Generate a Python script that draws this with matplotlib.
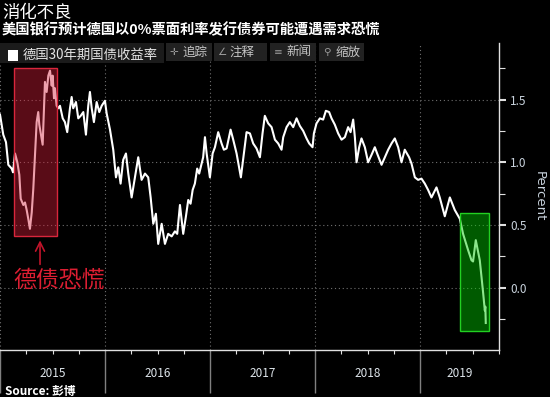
import numpy as np
import matplotlib
matplotlib.use("Agg")
import matplotlib.pyplot as plt
from matplotlib.patches import Rectangle
import matplotlib.transforms as mtransforms

plt.rcParams['font.family'] = ['Noto Sans CJK SC', 'DejaVu Sans']

title = "消化不良"
subtitle = "美国银行预计德国以0%票面利率发行债券可能遭遇需求恐慌"
series_name = "德国30年期国债收益率"
source = "Source: 彭博"
callout = "德债恐慌"
tool_icons = ["✛", "∠", "≡", "⚲"]
tool_names = ["追踪", "注释", "新闻", "缩放"]

# decimal year, yield in percent
t = [2015.000, 2015.031, 2015.057, 2015.079, 2015.111, 2015.124, 2015.143, 2015.165,
     2015.184, 2015.197, 2015.222, 2015.238, 2015.254, 2015.269, 2015.285, 2015.302,
     2015.317, 2015.333, 2015.349, 2015.364, 2015.374, 2015.390, 2015.406, 2015.419,
     2015.428, 2015.444, 2015.460, 2015.476, 2015.492, 2015.501, 2015.514, 2015.523,
     2015.539, 2015.555, 2015.571, 2015.597, 2015.618, 2015.640, 2015.666, 2015.682,
     2015.697, 2015.723, 2015.745, 2015.768, 2015.793, 2015.818, 2015.840, 2015.856,
     2015.873, 2015.894, 2015.920, 2015.945, 2015.968, 2015.999,
     2016.015, 2016.047, 2016.078, 2016.104, 2016.126, 2016.148, 2016.173, 2016.199,
     2016.221, 2016.253, 2016.284, 2016.316, 2016.348, 2016.380, 2016.411, 2016.434,
     2016.459, 2016.484, 2016.506, 2016.539, 2016.570, 2016.601, 2016.634, 2016.665,
     2016.687, 2016.713, 2016.744, 2016.770, 2016.792, 2016.814, 2016.834, 2016.855,
     2016.877, 2016.896, 2016.919, 2016.934, 2016.951, 2016.967, 2016.998,
     2017.024, 2017.046, 2017.077, 2017.109, 2017.131, 2017.157, 2017.195, 2017.220,
     2017.252, 2017.293, 2017.322, 2017.347, 2017.379, 2017.410, 2017.442, 2017.474,
     2017.499, 2017.521, 2017.553, 2017.585, 2017.617, 2017.648, 2017.680, 2017.696,
     2017.728, 2017.759, 2017.791, 2017.823, 2017.854, 2017.886, 2017.918, 2017.943,
     2017.975, 2017.988,
     2018.013, 2018.045, 2018.076, 2018.102, 2018.133, 2018.156, 2018.187, 2018.219,
     2018.251, 2018.283, 2018.314, 2018.337, 2018.362, 2018.378, 2018.394, 2018.419,
     2018.441, 2018.473, 2018.504, 2018.537, 2018.568, 2018.590, 2018.632, 2018.663,
     2018.695, 2018.727, 2018.758, 2018.790, 2018.822, 2018.853, 2018.894, 2018.917,
     2018.949, 2018.980,
     2019.012, 2019.044, 2019.075, 2019.107, 2019.155, 2019.186, 2019.234, 2019.282,
     2019.329, 2019.377, 2019.408, 2019.456, 2019.488, 2019.503, 2019.529, 2019.567,
     2019.583, 2019.599, 2019.615, 2019.620, 2019.624]
y = [1.38, 1.22, 1.16, 0.98, 0.95, 0.92, 1.07, 1.00,
     0.90, 0.71, 0.66, 0.68, 0.62, 0.55, 0.47, 0.60,
     0.79, 1.06, 1.32, 1.40, 1.30, 1.22, 1.14, 1.45,
     1.64, 1.56, 1.69, 1.73, 1.61, 1.69, 1.51, 1.59,
     1.45, 1.43, 1.45, 1.35, 1.32, 1.24, 1.43, 1.52,
     1.43, 1.48, 1.35, 1.37, 1.40, 1.22, 1.45, 1.56,
     1.43, 1.32, 1.48, 1.40, 1.45, 1.49,
     1.39, 1.26, 1.10, 0.88, 0.96, 0.83, 1.02, 1.07,
     0.91, 0.72, 0.88, 1.04, 0.86, 0.91, 0.88, 0.72,
     0.51, 0.59, 0.35, 0.51, 0.35, 0.43, 0.41, 0.45,
     0.43, 0.66, 0.43, 0.57, 0.70, 0.67, 0.78, 0.83,
     0.95, 0.91, 0.99, 1.04, 1.20, 1.07, 0.88,
     1.07, 1.12, 1.24, 1.15, 1.10, 1.11, 1.26, 1.18,
     1.07, 0.88, 1.07, 1.24, 1.23, 1.15, 1.11, 1.04,
     1.23, 1.37, 1.31, 1.28, 1.18, 1.15, 1.10, 1.20,
     1.28, 1.32, 1.28, 1.35, 1.29, 1.25, 1.19, 1.15,
     1.12, 1.23,
     1.31, 1.35, 1.34, 1.41, 1.40, 1.35, 1.30, 1.23,
     1.18, 1.20, 1.28, 1.24, 1.34, 1.20, 1.00, 1.12,
     1.19, 1.12, 1.00, 1.06, 1.12, 1.07, 0.98, 1.04,
     1.10, 1.15, 1.19, 1.12, 1.00, 1.10, 1.04, 0.99,
     0.88, 0.86,
     0.87, 0.83, 0.78, 0.72, 0.80, 0.72, 0.57, 0.72,
     0.62, 0.55, 0.43, 0.30, 0.22, 0.21, 0.38, 0.22,
     0.09, -0.04, -0.18, -0.15, -0.28]

years = [2015, 2016, 2017, 2018, 2019]
x_end = 2019.748
yticks = [0.0, 0.5, 1.0, 1.5]

# highlighted boxes: (x0, x1, y0, y1)
red_box = (2015.133, 2015.542, 0.415, 1.75)
green_box = (2019.376, 2019.652, -0.345, 0.598)

W, H = 550, 397
fig = plt.figure(figsize=(W / 100, H / 100), dpi=100, facecolor="black")
ax = fig.add_axes([0, 1 - 350 / H, 499 / W, 307 / H], facecolor="black")

ax.plot(t, y, color="white", lw=1.5, zorder=3)
ax.set_xlim(2015.0, x_end)
ax.set_ylim(-0.495, 1.95)

for yy in yticks:
    ax.axhline(yy, color="#707070", lw=0.8, ls=(0, (1, 2.5)), zorder=1)
for yr in years:
    ax.axvline(yr, color="#707070", lw=0.8, ls=(0, (1, 2.5)), zorder=1)

# boxes
rx0, rx1, ry0, ry1 = red_box
ax.add_patch(Rectangle((rx0, ry0), rx1 - rx0, ry1 - ry0, facecolor="#d61d39",
                       alpha=0.42, edgecolor="none", zorder=4))
ax.add_patch(Rectangle((rx0, ry0), rx1 - rx0, ry1 - ry0, facecolor="none",
                       edgecolor="#d9263c", lw=1.0, zorder=5))
gx0, gx1, gy0, gy1 = green_box
ax.add_patch(Rectangle((gx0, gy0), gx1 - gx0, gy1 - gy0, facecolor="#00c800",
                       alpha=0.45, edgecolor="none", zorder=4))
ax.add_patch(Rectangle((gx0, gy0), gx1 - gx0, gy1 - gy0, facecolor="none",
                       edgecolor="#22d022", lw=1.0, zorder=5))

# callout
ax.annotate("", xy=(2015.381, 0.40), xytext=(2015.381, 0.165),
            arrowprops=dict(arrowstyle="->", color="#c0142a", lw=1.2,
                            mutation_scale=16), zorder=6)
ax.text(2015.56, 0.06, callout, color="#dc1e32", fontsize=16.5,
        ha="center", va="center", zorder=6)

# spines
for s in ["top", "left"]:
    ax.spines[s].set_visible(False)
ax.spines["bottom"].set_color("#e0e0e0")
ax.spines["right"].set_color("#e0e0e0")
ax.spines["bottom"].set_linewidth(1.0)
ax.spines["right"].set_linewidth(1.0)

# y axis on the right
ax.yaxis.tick_right()
ax.yaxis.set_label_position("right")
ax.set_yticks(yticks)
ax.set_yticklabels([f"{v:.1f}" for v in yticks])
ax.set_yticks([-0.25, 0.25, 0.75, 1.25, 1.75], minor=True)
ax.tick_params(axis="y", which="major", length=5, width=1.5, color="#e0e0e0",
               labelcolor="#c8d2dc", labelsize=8.5, pad=3)
ax.tick_params(axis="y", which="minor", length=4, width=0.8, color="#e0e0e0")
ax.set_ylabel("Percent", rotation=270, color="#c8d2dc", fontsize=9.5,
              labelpad=14, family=["DejaVu Sans"])

# x axis: year separators and quarter ticks
ax.set_xticks(years)
ax.set_xticklabels([])
ax.set_xticks([yr + q for yr in years for q in (0.25, 0.5, 0.75)], minor=True)
ax.tick_params(axis="x", which="major", length=31, width=1.0, color="#808080",
               direction="out")
ax.tick_params(axis="x", which="minor", length=3, width=0.8, color="#e0e0e0",
               direction="out")
trans = mtransforms.blended_transform_factory(ax.transData, ax.transAxes)
for yr in years:
    xc = (yr + min(yr + 1, x_end)) / 2
    ax.text(xc, -0.077, str(yr), transform=trans, color="#dde4ea",
            fontsize=8.5, ha="center", va="center")

# title lines
fig.text(2 / W, 1 - 13 / H, title, color="white", fontsize=12.5,
         ha="left", va="center")
fig.text(2 / W, 1 - 30 / H, subtitle, color="white", fontsize=10.3,
         fontweight="bold", ha="left", va="center")
fig.text(5 / W, 1 - 391 / H, source, color="white", fontsize=8.5,
         fontweight="bold", ha="left", va="center")

# legend / toolbar strip
def px_rect(x0, x1, y0, y1, color):
    fig.patches.append(Rectangle((x0 / W, 1 - y1 / H), (x1 - x0) / W, (y1 - y0) / H,
                                 transform=fig.transFigure, facecolor=color,
                                 edgecolor="none", zorder=5))

px_rect(0, 164, 43, 63, "#1b1b1b")
px_rect(8, 18, 50, 61, "white")
fig.text(23 / W, 1 - 55 / H, series_name, color="#e6e6e6", fontsize=9.6,
         ha="left", va="center", zorder=6)
buttons = [(166, 212), (214, 267), (270, 316), (319, 364)]
for (bx0, bx1), icon, name in zip(buttons, tool_icons, tool_names):
    px_rect(bx0, bx1, 43, 61, "#222222")
    fig.text((bx0 + 8) / W, 1 - 52 / H, icon, color="#9a9a9a", fontsize=7.5,
             ha="center", va="center", zorder=6, family=["DejaVu Sans"])
    fig.text((bx0 + 16) / W, 1 - 52 / H, name, color="#c4c4c4", fontsize=9,
             ha="left", va="center", zorder=6)

fig.savefig("out.png", dpi=100, facecolor="black")
